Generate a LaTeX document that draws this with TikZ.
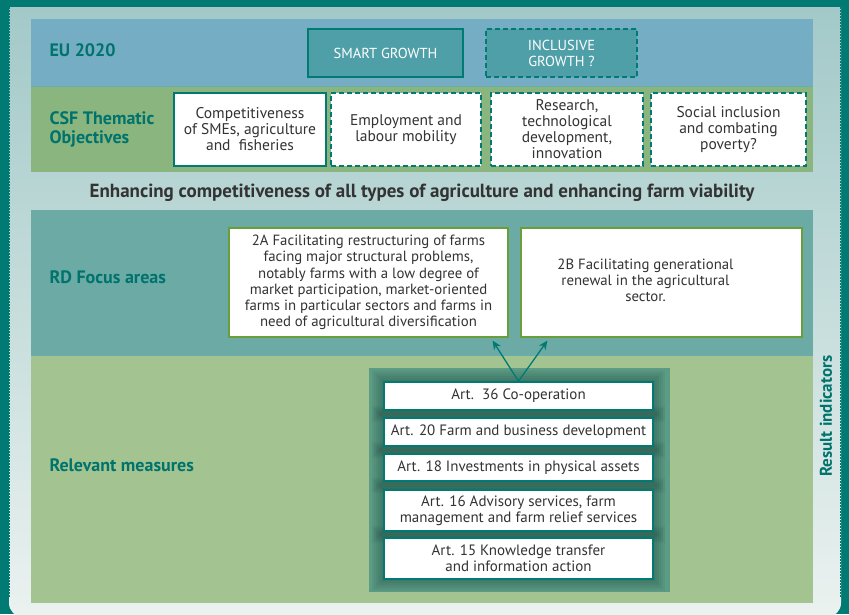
\documentclass[tikz,border=0pt]{standalone}
\usepackage{fontspec}
\setmainfont{PT Sans}
\usetikzlibrary{arrows.meta, positioning, calc}

\definecolor{frameteal}{HTML}{007A73}
\definecolor{labelteal}{HTML}{00736C}
\definecolor{panetop}{HTML}{A2C9C8}
\definecolor{panebot}{HTML}{EBF2F0}
\definecolor{euband}{HTML}{75AEC4}
\definecolor{csfband}{HTML}{8AB57F}
\definecolor{rdband}{HTML}{6CAAA5}
\definecolor{measband}{HTML}{A3C491}
\definecolor{growthfill}{HTML}{4F9FA9}
\definecolor{focusline}{HTML}{6A9E3A}
\definecolor{measpanel}{HTML}{5C9C84}
\definecolor{textgray}{HTML}{333333}

\tikzset{
  bandlabel/.style={anchor=west, labelteal, font=\bfseries\fontsize{18}{19}\selectfont, align=left},
  growthbox/.style={draw=frameteal, line width=1.3pt, fill=growthfill, text=white,
    font=\fontsize{14.5}{16}\selectfont, align=center, inner sep=0pt},
  objbox/.style={draw=frameteal, line width=1.4pt, fill=white, text=textgray,
    font=\fontsize{15.5}{16}\selectfont, align=center, inner sep=0pt},
  dashedge/.style={dash pattern=on 5pt off 3pt},
  focusbox/.style={draw=focusline, line width=1.2pt, fill=white, text=textgray,
    font=\fontsize{14.8}{16.2}\selectfont, align=center, inner sep=0pt},
  measbox/.style={draw=frameteal, line width=1.6pt, fill=white, text=textgray,
    minimum width=269pt, font=\fontsize{15}{16}\selectfont, align=center, inner sep=0pt},
  linkarrow/.style={-{Stealth[length=9pt, width=8pt]}, frameteal, line width=1.3pt}
}

\begin{document}
\begin{tikzpicture}[x=1pt, y=-1pt]
    \useasboundingbox (0,0) rectangle (849,614);

    % Outer frame and background panel
    \fill[frameteal] (0,0) rectangle (849,614);
    \shade[top color=panetop, bottom color=panebot]
      (9,7) -- (841,7) [rounded corners=14pt] -- (841,617) -- (9,617) [sharp corners] -- cycle;
    \draw[frameteal, line width=1.4pt, dash pattern=on 1.5pt off 1.5pt] (9.5,7) -- (9.5,598);
    \draw[frameteal, line width=1.4pt, dash pattern=on 1.5pt off 1.5pt] (840.5,7) -- (840.5,598);

    % Bands
    \fill[euband] (31,19) rectangle (813,86);
    \fill[csfband] (31,86) rectangle (813,172);
    \draw[frameteal!60, line width=0.8pt] (31,86) -- (813,86);
    \fill[rdband] (31,210) rectangle (813,355);
    \fill[measband] (31,355) rectangle (813,603);
    \draw[frameteal!60, line width=0.8pt] (31,355) -- (813,355);

    % Band labels
    \node[bandlabel] (lbleu) at (46,50) {EU 2020};
    \node[bandlabel] (lblcsf) at (46,129) {CSF Thematic\\Objectives};
    \node[bandlabel] (lblrd) at (46,277) {RD Focus areas};
    \node[bandlabel] (lblmeas) at (46,465) {Relevant measures};

    % EU 2020 growth boxes
    \node[growthbox, minimum width=155pt, minimum height=48pt] (smart) at (385.5,53) {SMART GROWTH};
    \node[growthbox, dashedge, minimum width=151pt, minimum height=48pt] (inclusive) at (561.5,53) {INCLUSIVE\\GROWTH ?};

    % Thematic objectives
    \node[objbox, minimum width=152pt, minimum height=73pt] (obj1) at (250,129.5) {Competitiveness\\of SMEs, agriculture\\and\ \ fisheries};
    \node[objbox, dashedge, minimum width=150pt, minimum height=73pt] (obj2) at (406,129.5) {Employment and\\labour mobility};
    \node[objbox, dashedge, minimum width=152pt, minimum height=73pt] (obj3) at (567,129.5) {Research,\\technological\\development,\\innovation};
    \node[objbox, dashedge, minimum width=155pt, minimum height=73pt] (obj4) at (728.5,129.5) {Social inclusion\\and combating\\poverty?};

    % Heading between the two blocks
    \node[text=textgray, font=\bfseries\fontsize{19}{20}\selectfont] (headline) at (422,193)
      {Enhancing competitiveness of all types of agriculture and enhancing farm viability};

    % Focus areas
    \node[focusbox, minimum width=279pt, minimum height=109pt] (fa2a) at (368.5,282.5)
      {2A Facilitating restructuring of farms\\facing major structural problems,\\notably farms with a low degree of\\market participation, market-oriented\\farms in particular sectors and farms in\\need of agricultural diversification};
    \node[focusbox, minimum width=281pt, minimum height=109pt] (fa2b) at (661.5,282.5)
      {\begin{tabular}{@{}c@{}}2B Facilitating generational\\renewal in the agricultural\\sector.\end{tabular}\hspace*{32pt}};

    % Measures panel
    \fill[measpanel] (369,368) rectangle (670,592);
    \foreach \y/\h in {396/28, 432/28, 467.5/27, 510.5/41, 558.5/41}{
      \foreach \g in {12,10,...,2}{
        \fill[black!70!frameteal, opacity=0.05] (384-\g,\y-\h/2-\g) rectangle (653+\g,\y+\h/2+\g);
      }
    }
    \node[measbox, minimum height=28pt] (art36) at (518.5,396) {Art.\ \ 36 Co-operation};
    \node[measbox, minimum height=28pt] (art20) at (518.5,432) {Art. 20 Farm and business development};
    \node[measbox, minimum height=27pt] (art18) at (518.5,467.5) {Art. 18 Investments in physical assets};
    \node[measbox, minimum height=41pt] (art16) at (518.5,510.5) {Art. 16 Advisory services, farm\\management and farm relief services};
    \node[measbox, minimum height=41pt] (art15) at (518.5,558.5) {Art. 15 Knowledge transfer\\and information action};

    % Links to the focus areas
    \coordinate (tip2a) at ($(fa2a.south east)+(-16,3)$);
    \coordinate (tip2b) at ($(fa2b.south west)+(27,3)$);
    \draw[linkarrow] (art36.north) -- (tip2a);
    \draw[linkarrow] (art36.north) -- (tip2b);

    % Side column
    \node[rotate=90, labelteal, font=\bfseries\fontsize{17}{19}\selectfont] (result) at (826,416) {Result indicators};
\end{tikzpicture}
\end{document}
